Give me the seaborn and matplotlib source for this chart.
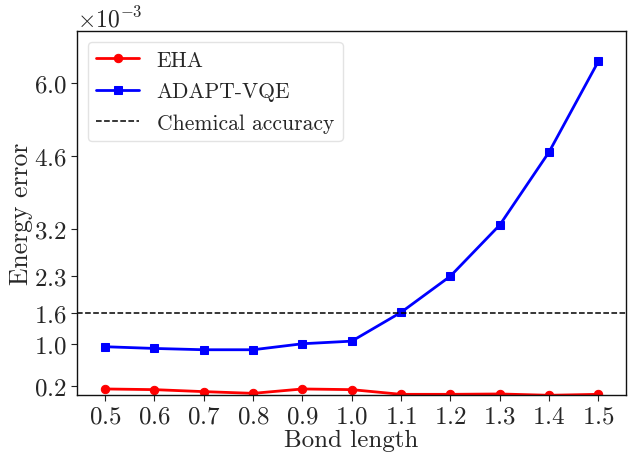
import matplotlib
matplotlib.use("Agg")
import matplotlib.pyplot as plt
import seaborn as sns
from matplotlib.ticker import ScalarFormatter

# Data (energy error in Hartree)
bond_length = [0.5, 0.6, 0.7, 0.8, 0.9, 1.0, 1.1, 1.2, 1.3, 1.4, 1.5]
eha_error = [0.136e-3, 0.123e-3, 0.085e-3, 0.052e-3, 0.136e-3, 0.123e-3,
             0.033e-3, 0.033e-3, 0.040e-3, 0.015e-3, 0.033e-3]
adapt_error = [0.946e-3, 0.913e-3, 0.888e-3, 0.888e-3, 1.003e-3, 1.053e-3,
               1.606e-3, 2.30e-3, 3.28e-3, 4.68e-3, 6.42e-3]
chem_acc = 1.6e-3
y_ticks = [0.2e-3, 1.0e-3, 1.6e-3, 2.3e-3, 3.2e-3, 4.6e-3, 6.0e-3]
x_ticks = bond_length

sns.set_style("ticks")
plt.rcParams["font.family"] = ["cmr10", "DejaVu Serif"]
plt.rcParams["mathtext.fontset"] = "cm"
plt.rcParams["axes.formatter.use_mathtext"] = True
plt.rcParams["axes.unicode_minus"] = True

fig, ax = plt.subplots(figsize=(6.43, 4.60), dpi=100)
fig.subplots_adjust(left=0.1198, right=0.9736, top=0.9304, bottom=0.1391)

sns.lineplot(x=bond_length, y=eha_error, color="red", marker="o", markersize=6,
             markeredgecolor="red", linewidth=2, label="EHA", ax=ax)
sns.lineplot(x=bond_length, y=adapt_error, color="blue", marker="s", markersize=6,
             markeredgecolor="blue", linewidth=2, label="ADAPT-VQE", ax=ax)
ax.axhline(chem_acc, color="black", linestyle="--", linewidth=1.1, label="Chemical accuracy")

ax.set_xlim(0.443, 1.556)
ax.set_ylim(0.02e-3, 7.0e-3)
ax.set_xticks(x_ticks)
ax.set_yticks(y_ticks)
fmt = ScalarFormatter(useMathText=True)
fmt.set_powerlimits((-3, -3))
ax.yaxis.set_major_formatter(fmt)
ax.tick_params(labelsize=18, direction="out", length=4, color="#222222")
ax.yaxis.get_offset_text().set_fontsize(17)

for s in ax.spines.values():
    s.set_visible(True)
    s.set_color("#111111")
    s.set_linewidth(1.0)

ax.set_xlabel("Bond length", fontsize=18, labelpad=1)
ax.set_ylabel("Energy error", fontsize=18.5, labelpad=0.5)
ax.legend(loc="upper left", fontsize=15.5, framealpha=0.8, edgecolor="#dddddd",
          handlelength=2.0, labelspacing=0.55)

fig.savefig("out.png", dpi=100)
